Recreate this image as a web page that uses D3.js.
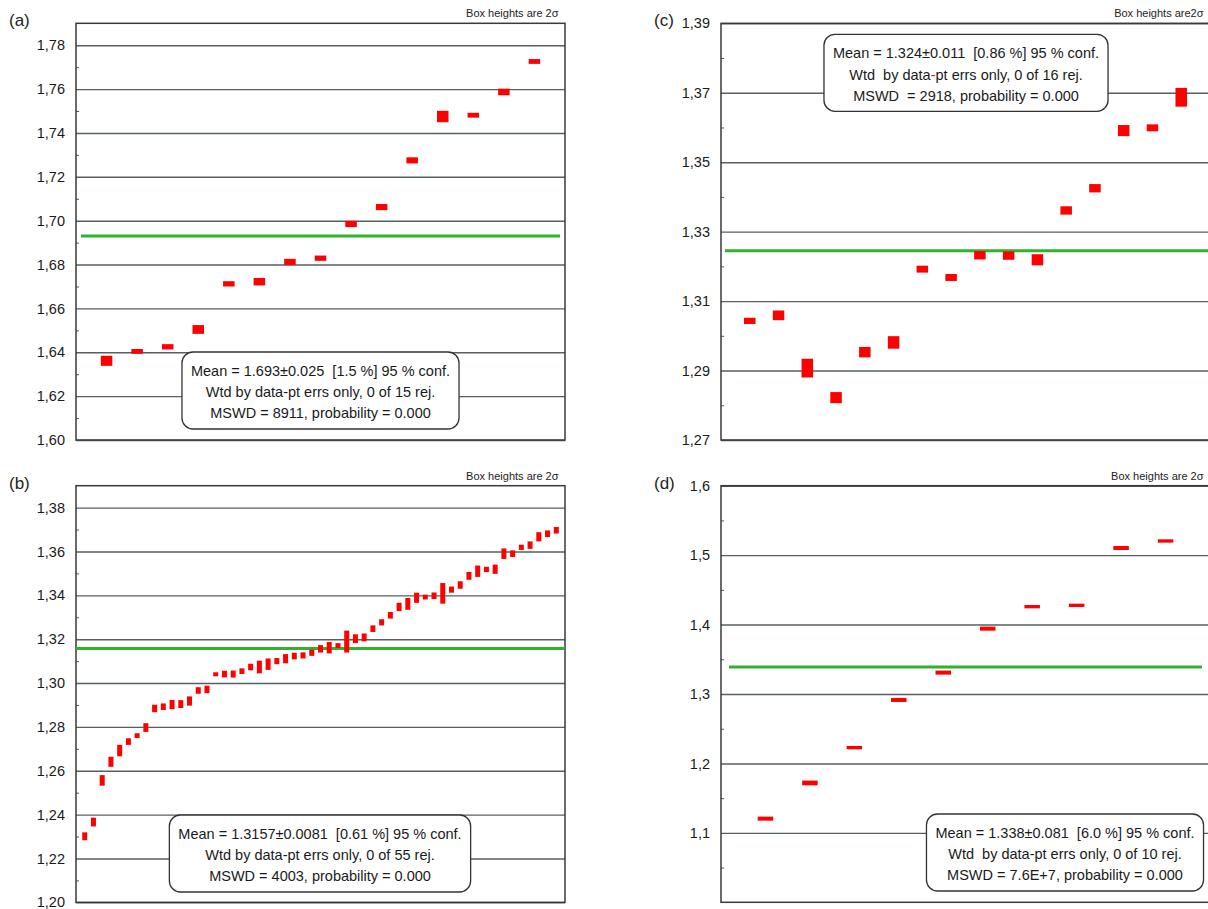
<!DOCTYPE html>
<html>
<head>
<meta charset="utf-8">
<script src="https://cdn.jsdelivr.net/npm/d3@7"></script>
<style>
  body { margin: 0; background: #fff; }
  svg { display: block; font-family: "Liberation Sans", Arial, sans-serif; }
</style>
</head>
<body>
<svg id="chart" width="1208" height="909"></svg>
<script>
// ---- data ----
// (a)
var aValues = [1.6361, 1.6404, 1.6425, 1.6504, 1.6712, 1.6722, 1.6812, 1.6829, 1.6985, 1.7062, 1.7275, 1.7475, 1.7481, 1.7587, 1.7726];
var aSigma  = [0.0023, 0.0011, 0.0012, 0.0020, 0.0012, 0.0017, 0.0014, 0.0012, 0.0014, 0.0014, 0.0014, 0.0026, 0.0011, 0.0015, 0.0011];
var aMean = 1.693;
var aTicks = [1.60, 1.62, 1.64, 1.66, 1.68, 1.70, 1.72, 1.74, 1.76, 1.78];
var aMinor = [1.61, 1.63, 1.65, 1.67, 1.69, 1.71, 1.73, 1.75, 1.77];
var aStats = ["Mean = 1.693±0.025  [1.5 %] 95 % conf.", "Wtd by data-pt errs only, 0 of 15 rej.", "MSWD = 8911, probability = 0.000"];

// (b)
var bValues = [1.2301, 1.2366, 1.2556, 1.2641, 1.2692, 1.2733, 1.2760, 1.2797, 1.2884, 1.2892,
               1.2902, 1.2904, 1.2918, 1.2966, 1.2971, 1.3040, 1.3041, 1.3041, 1.3054, 1.3073,
               1.3073, 1.3086, 1.3100, 1.3111, 1.3123, 1.3126, 1.3138, 1.3156, 1.3161, 1.3171,
               1.3189, 1.3202, 1.3208, 1.3248, 1.3277, 1.3309, 1.3347, 1.3361, 1.3389, 1.3392,
               1.3398, 1.3409, 1.3426, 1.3447, 1.3489, 1.3510, 1.3518, 1.3519, 1.3590, 1.3590,
               1.3619, 1.3629, 1.3667, 1.3681, 1.3697];
var bSigma  = [0.0018, 0.0020, 0.0024, 0.0023, 0.0026, 0.0015, 0.0011, 0.0020, 0.0017, 0.0015,
               0.0021, 0.0018, 0.0021, 0.0015, 0.0017, 0.0009, 0.0015, 0.0016, 0.0013, 0.0015,
               0.0029, 0.0026, 0.0014, 0.0021, 0.0015, 0.0014, 0.0014, 0.0017, 0.0026, 0.0011,
               0.0050, 0.0020, 0.0018, 0.0015, 0.0014, 0.0015, 0.0019, 0.0027, 0.0023, 0.0011,
               0.0015, 0.0047, 0.0014, 0.0017, 0.0018, 0.0026, 0.0012, 0.0021, 0.0024, 0.0015,
               0.0012, 0.0017, 0.0021, 0.0015, 0.0015];
var bMean = 1.3157;
var bTicks = [1.20, 1.22, 1.24, 1.26, 1.28, 1.30, 1.32, 1.34, 1.36, 1.38];
var bMinor = [1.21, 1.23, 1.25, 1.27, 1.29, 1.31, 1.33, 1.35, 1.37];
var bStats = ["Mean = 1.3157±0.0081  [0.61 %] 95 % conf.", "Wtd by data-pt errs only, 0 of 55 rej.", "MSWD = 4003, probability = 0.000"];

// (c)
var cValues = [1.3043, 1.3059, 1.2907, 1.2822, 1.2953, 1.2981, 1.3192, 1.3168, 1.3232, 1.3231, 1.3219, 1.3361, 1.3425, 1.3591, 1.3599, 1.3687];
var cSigma  = [0.0009, 0.0014, 0.0027, 0.0016, 0.0015, 0.0018, 0.0010, 0.0010, 0.0012, 0.0012, 0.0016, 0.0012, 0.0012, 0.0016, 0.0010, 0.0027];
var cMean = 1.3245;
var cTicks = [1.27, 1.29, 1.31, 1.33, 1.35, 1.37, 1.39];
var cMinor = [1.28, 1.30, 1.32, 1.34, 1.36, 1.38];
var cStats = ["Mean = 1.324±0.011  [0.86 %] 95 % conf.", "Wtd  by data-pt errs only, 0 of 16 rej.", "MSWD  = 2918, probability = 0.000"];

// (d)
var dValues = [1.1205, 1.1719, 1.2228, 1.2914, 1.3308, 1.3941, 1.4258, 1.4277, 1.5103, 1.5204];
var dSigma  = [0.0029, 0.0034, 0.0024, 0.0029, 0.0029, 0.0029, 0.0024, 0.0024, 0.0029, 0.0024];
var dMean = 1.339;
var dTicks = [1.1, 1.2, 1.3, 1.4, 1.5, 1.6];
var dMinor = [1.05, 1.15, 1.25, 1.35, 1.45, 1.55];
var dStats = ["Mean = 1.338±0.081  [6.0 %] 95 % conf.", "Wtd  by data-pt errs only, 0 of 10 rej.", "MSWD = 7.6E+7, probability = 0.000"];

var boxNotes = ["Box heights are 2σ", "Box heights are 2σ", "Box heights are2σ", "Box heights are 2σ"];

// ---- layout of the four panels ----
var frameW = 489;
var panels = [
  {tag: "(a)", values: aValues, sigma: aSigma, mean: aMean, ticks: aTicks, minor: aMinor, stats: aStats,
   domain: [1.60, 1.79], fmt: ".2f", left: 76, top: 23.3, bottom: 440, boxW: 11.5, greenIn: [5, 5],
   statCx: 320.5, statTop: 352, redDash: false},
  {tag: "(b)", values: bValues, sigma: bSigma, mean: bMean, ticks: bTicks, minor: bMinor, stats: bStats,
   domain: [1.20, 1.39], fmt: ".2f", left: 76, top: 485.7, bottom: 902.3, boxW: 5, greenIn: [0, 0],
   statCx: 320, statTop: 815, redDash: false},
  {tag: "(c)", values: cValues, sigma: cSigma, mean: cMean, ticks: cTicks, minor: cMinor, stats: cStats,
   domain: [1.27, 1.39], fmt: ".2f", left: 721, top: 23.3, bottom: 440, boxW: 11.5, greenIn: [4, 0],
   statCx: 966, statTop: 34.3, redDash: true},
  {tag: "(d)", values: dValues, sigma: dSigma, mean: dMean, ticks: dTicks, minor: dMinor, stats: dStats,
   domain: [1.0, 1.6], fmt: ".1f", left: 721, top: 485.7, bottom: 902.3, boxW: 15.5, greenIn: [8, 8],
   statCx: 1065, statTop: 814, redDash: false}
];

var svg = d3.select("#chart");

panels.forEach(function(p, pi) {
  var right = p.left + frameW;
  var g = svg.append("g");

  var x = d3.scaleLinear().domain([0, p.values.length + 1]).range([p.left, right]);
  var y = d3.scaleLinear().domain(p.domain).range([p.bottom, p.top]);
  var fmt = d3.format(p.fmt);

  // grid lines
  var grid = g.append("g")
      .attr("transform", "translate(" + p.left + ",0)")
      .call(d3.axisLeft(y).tickValues(p.ticks).tickSize(-frameW).tickFormat(""));
  grid.select(".domain").remove();
  grid.selectAll("line").attr("stroke", "#56605f").attr("stroke-width", 1.4);

  // small minor ticks inside the frame
  var minor = g.append("g")
      .attr("transform", "translate(" + p.left + ",0)")
      .call(d3.axisLeft(y).tickValues(p.minor).tickSize(-3).tickFormat(""));
  minor.select(".domain").remove();
  minor.selectAll("line").attr("stroke", "#555").attr("stroke-width", 1);

  // tick labels
  var lab = g.append("g")
      .attr("transform", "translate(" + p.left + ",0)")
      .call(d3.axisLeft(y).tickValues(p.ticks).tickSize(0).tickPadding(11)
        .tickFormat(function(d) { return fmt(d).replace(".", ","); }));
  lab.select(".domain").remove();
  lab.selectAll("text")
      .style("font-family", "'Liberation Sans', Arial, sans-serif")
      .style("font-size", "14.5px")
      .attr("fill", "#1a1a1a");

  // frame
  g.append("rect")
      .attr("x", p.left).attr("y", p.top)
      .attr("width", frameW).attr("height", p.bottom - p.top)
      .attr("fill", "none").attr("stroke", "#3a3a3a").attr("stroke-width", 1.5);

  // mean line
  g.append("line")
      .attr("x1", p.left + p.greenIn[0]).attr("x2", right - p.greenIn[1])
      .attr("y1", y(p.mean)).attr("y2", y(p.mean))
      .attr("stroke", "#2db42a").attr("stroke-width", 3);

  // 2-sigma boxes
  g.selectAll("rect.pt")
      .data(p.values)
      .enter().append("rect")
      .attr("class", "pt")
      .attr("x", function(d, i) { return x(i + 1) - p.boxW / 2; })
      .attr("y", function(d, i) { return y(d + p.sigma[i]); })
      .attr("width", p.boxW)
      .attr("height", function(d, i) { return y(d - p.sigma[i]) - y(d + p.sigma[i]); })
      .attr("fill", "#ff0000");

  // stats box
  var st = g.append("g");
  var bg = st.append("rect");
  var widths = [];
  p.stats.forEach(function(s, k) {
    var t = st.append("text")
        .attr("x", p.statCx)
        .attr("y", p.statTop + 24 + k * 21.2)
        .attr("text-anchor", "middle")
        .style("font-size", "14.5px")
        .style("white-space", "pre")
        .attr("fill", "#1a1a1a");
    if (p.redDash && k === 1) {
      var parts = s.split("-");
      t.append("tspan").text(parts[0]);
      t.append("tspan").attr("fill", "#ff0000").text("-");
      t.append("tspan").text(parts[1]);
    } else {
      t.text(s);
    }
    widths.push(t.node().getComputedTextLength());
  });
  var bw = d3.max(widths) + 18;
  bg.attr("x", p.statCx - bw / 2).attr("y", p.statTop)
    .attr("width", bw).attr("height", 77)
    .attr("rx", 11).attr("ry", 11)
    .attr("fill", "#fff").attr("stroke", "#333").attr("stroke-width", 1.3);

  // panel tag and note
  svg.append("text")
      .attr("x", p.left - 67).attr("y", p.top + 3)
      .style("font-size", "17px").attr("fill", "#222")
      .text(p.tag);
  svg.append("text")
      .attr("x", Math.min(right - 6.5, 1204)).attr("y", p.top - 6)
      .attr("text-anchor", "end")
      .style("font-size", "11px").attr("fill", "#222")
      .text(boxNotes[pi]);
});
</script>
</body>
</html>
